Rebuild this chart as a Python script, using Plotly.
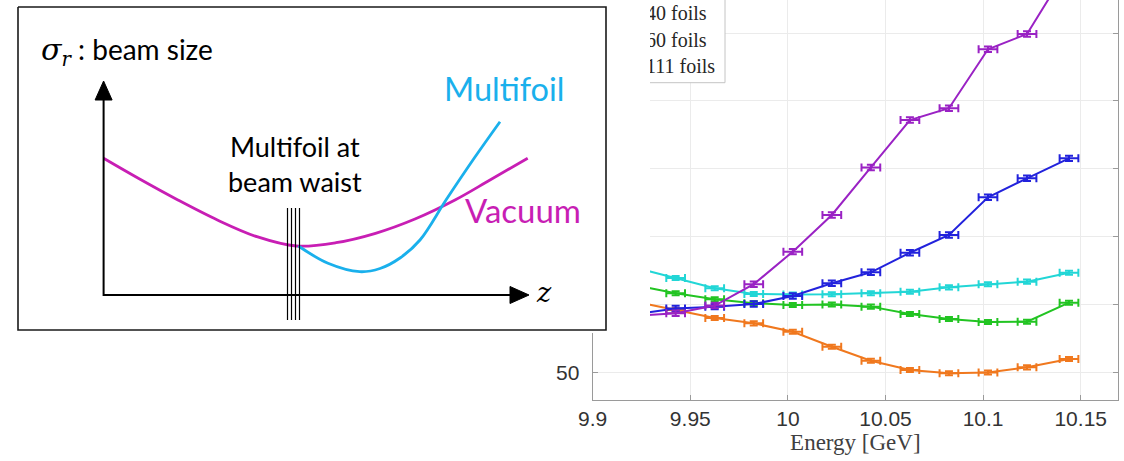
import plotly.graph_objects as go

W, H = 1124, 461

# ---------------- data (right-hand measurement plot) ----------------
energy = [9.9225, 9.9425, 9.9625, 9.9825, 10.0025, 10.0225, 10.0425, 10.0625, 10.0825, 10.1025, 10.1225, 10.1440]
energy_err = 0.0048

series_names = ["10 foils", "20 foils", "40 foils", "60 foils", "111 foils"]
size_orange = [101.9, 96.0, 90.1, 86.2, 80.0, 69.0, 58.7, 51.8, 49.4, 50.0, 53.8, 59.9]
size_green = [114.1, 108.3, 103.9, 101.0, 99.7, 100.1, 98.5, 93.1, 89.4, 87.2, 87.4, 101.4]
size_cyan = [127.0, 119.6, 112.0, 107.8, 107.4, 107.6, 108.3, 109.5, 112.7, 115.0, 116.9, 123.5]
size_blue = [93.1, 97.1, 98.5, 100.4, 106.3, 115.7, 123.8, 138.2, 151.3, 179.0, 193.0, 207.7]
size_purple = [91.8, 93.6, 99.3, 115.0, 139.0, 166.0, 201.0, 235.9, 244.6, 288.0, 299.3, 349.3]
size_err = [1.5, 1.5, 1.5, 2.0, 2.0]
series_colors = ["#f0781e", "#22c422", "#22d6d6", "#2222dc", "#9a22c4"]

x_ticks = [9.9, 9.95, 10.0, 10.05, 10.1, 10.15]
x_ticklabels = ["9.9", "9.95", "10", "10.05", "10.1", "10.15"]
y_ticks = [50, 100, 150, 200, 250, 300]
y_ticklabels = ["50", "100", "150", "200", "250", "300"]
y_labels_visible = [50]          # the others lie under the pasted sketch
legend_labels = ["40 foils", "60 foils", "111 foils"]

# ---------------- schematic (left-hand sketch, pixel space) ----------------
box_x = [18, 606, 606, 18, 18]
box_y = [7, 7, 330, 330, 7]
vac_x = [103.6, 138.3, 177.9, 217.4, 256.9, 296.4, 336, 375.5, 415, 455, 490, 527.7]
vac_y = [158.3, 178.3, 200, 220, 236.7, 246, 242.7, 233.3, 219, 200, 180, 158.3]
mf_x = [298.4, 328, 359.7, 380, 400, 420, 446, 474.3, 500]
mf_y = [246, 263.3, 271.7, 268.5, 258, 240, 200, 158, 121.7]
foil_x = [287.5, 291.5, 295.5, 299.5]
foil_y = [208, 320]

# ---------------- geometry of the data axes (pixels) ----------------
PL, PR, PT, PB = 592.7, 1118.0, 0.0, 400.0
XR = [9.9, 10.1691]
YR = [29.75, 324.3]


def px2x(p):
    return XR[0] + (p - PL) / (PR - PL) * (XR[1] - XR[0])


def py2y(p):
    return YR[1] - (p - PT) / (PB - PT) * (YR[1] - YR[0])


fig = go.Figure()

# legend box
lg_l, lg_r, lg_t, lg_b = 560, 725, -10, 82.7
fig.add_trace(go.Scatter(
    x=[px2x(lg_l), px2x(lg_r), px2x(lg_r), px2x(lg_l), px2x(lg_l)],
    y=[py2y(lg_t), py2y(lg_t), py2y(lg_b), py2y(lg_b), py2y(lg_t)],
    mode="lines", fill="toself", fillcolor="white",
    line=dict(color="#c4c4c4", width=1), hoverinfo="skip", showlegend=False,
    xaxis="x", yaxis="y"))
fig.add_trace(go.Scatter(
    x=[px2x(646)] * 3, y=[py2y(15), py2y(41.7), py2y(68.3)],
    mode="text", text=legend_labels, textposition="middle right",
    textfont=dict(family="Liberation Serif", size=20, color="#262626"),
    hoverinfo="skip", showlegend=False, xaxis="x", yaxis="y"))

all_series = [size_orange, size_green, size_cyan, size_blue, size_purple]
for name, vals, col, ye in zip(series_names, all_series, series_colors, size_err):
    fig.add_trace(go.Scatter(
        x=energy, y=vals, name=name, mode="lines",
        line=dict(color=col, width=2),
        error_x=dict(type="constant", value=energy_err, color=col, thickness=2, width=4),
        error_y=dict(type="constant", value=ye, color=col, thickness=2, width=4),
        showlegend=False, xaxis="x", yaxis="y"))

# ---------------- schematic overlay on a full-page pixel axis ----------------
fig.add_trace(go.Scatter(
    x=[0, 650, 650, 0, 0], y=[-5, -5, 333, 333, -5], mode="lines",
    fill="toself", fillcolor="white", line=dict(width=0, color="white"),
    hoverinfo="skip", showlegend=False, xaxis="x2", yaxis="y2"))
fig.add_trace(go.Scatter(
    x=box_x, y=box_y, mode="lines", line=dict(color="#1a1a1a", width=1.6),
    hoverinfo="skip", showlegend=False, xaxis="x2", yaxis="y2"))
fig.add_trace(go.Scatter(
    x=vac_x, y=vac_y, mode="lines", line=dict(color="#c81eb4", width=2.8, shape="spline", smoothing=1.0),
    name="Vacuum", hoverinfo="skip", showlegend=False, xaxis="x2", yaxis="y2"))
fig.add_trace(go.Scatter(
    x=mf_x, y=mf_y, mode="lines", line=dict(color="#1ab0ec", width=2.8, shape="spline", smoothing=1.0),
    name="Multifoil", hoverinfo="skip", showlegend=False, xaxis="x2", yaxis="y2"))
for fx in foil_x:
    fig.add_trace(go.Scatter(
        x=[fx, fx], y=foil_y, mode="lines", line=dict(color="black", width=1.2),
        hoverinfo="skip", showlegend=False, xaxis="x2", yaxis="y2"))
fig.add_trace(go.Scatter(
    x=[103.6, 103.6, 512], y=[98, 295, 295], mode="lines",
    line=dict(color="black", width=2), hoverinfo="skip", showlegend=False,
    xaxis="x2", yaxis="y2"))
fig.add_trace(go.Scatter(
    x=[103.6, 95.1, 112.1, 103.6], y=[81, 100, 100, 81], mode="lines", fill="toself",
    fillcolor="black", line=dict(color="black", width=1), hoverinfo="skip",
    showlegend=False, xaxis="x2", yaxis="y2"))
fig.add_trace(go.Scatter(
    x=[529, 510, 510, 529], y=[295, 286.5, 303.5, 295], mode="lines", fill="toself",
    fillcolor="black", line=dict(color="black", width=1), hoverinfo="skip",
    showlegend=False, xaxis="x2", yaxis="y2"))

sans = "Lato"
annotations = [
    dict(x=39, y=51, xref="x2", yref="y2", xanchor="left", yanchor="middle", showarrow=False,
         text='<span style="font-family:DejaVu Serif;font-size:30px"><i>σ</i></span>'
              '<sub><span style="font-family:DejaVu Serif"><i>r</i></span></sub> : beam size',
         font=dict(family=sans, size=28, color="black")),
    dict(x=442, y=88, xref="x2", yref="y2", xanchor="left", yanchor="middle", showarrow=False,
         text="Multifoil", font=dict(family=sans, size=32.5, color="#1ab0ec")),
    dict(x=295, y=164, xref="x2", yref="y2", xanchor="center", yanchor="middle", showarrow=False,
         text="Multifoil at<br>beam waist", font=dict(family=sans, size=27, color="black")),
    dict(x=463, y=210, xref="x2", yref="y2", xanchor="left", yanchor="middle", showarrow=False,
         text="Vacuum", font=dict(family=sans, size=33, color="#c81eb4")),
    dict(x=544, y=292, xref="x2", yref="y2", xanchor="center", yanchor="middle", showarrow=False,
         text="<i>z</i>", font=dict(family="DejaVu Serif", size=27, color="black")),
]

y_ticktext = [lbl if v in y_labels_visible else "" for v, lbl in zip(y_ticks, y_ticklabels)]

axis_grey = "#9a9a9a"
fig.update_layout(
    width=W, height=H, autosize=False,
    margin=dict(l=0, r=0, t=0, b=0),
    paper_bgcolor="white", plot_bgcolor="rgba(0,0,0,0)",
    showlegend=False,
    annotations=annotations,
    xaxis=dict(
        domain=[PL / W, PR / W], range=XR, tickmode="array",
        tickvals=x_ticks, ticktext=x_ticklabels,
        showgrid=True, gridcolor="#ebebeb", gridwidth=1, zeroline=False,
        showline=True, linecolor=axis_grey, linewidth=1.2, mirror=False,
        ticks="inside", ticklen=5, tickcolor=axis_grey, ticklabelstandoff=0,
        tickfont=dict(family="Liberation Sans", size=21, color="#333333"),
        title=dict(text="Energy [GeV]", standoff=2,
                   font=dict(family="Liberation Serif", size=23, color="#404040")),
        automargin=False, fixedrange=True),
    yaxis=dict(
        domain=[(H - PB) / H, 1], range=YR, tickmode="array",
        tickvals=y_ticks, ticktext=y_ticktext,
        showgrid=True, gridcolor="#ebebeb", gridwidth=1, zeroline=False,
        showline=True, linecolor=axis_grey, linewidth=1.2, mirror="ticks",
        ticks="inside", ticklen=5, tickcolor=axis_grey, ticklabelstandoff=8,
        tickfont=dict(family="Liberation Sans", size=21, color="#333333"),
        automargin=False, fixedrange=True),
    xaxis2=dict(domain=[0, 1], range=[0, W], visible=False, anchor="y2", fixedrange=True),
    yaxis2=dict(domain=[0, 1], range=[H, 0], visible=False, anchor="x2", fixedrange=True),
)

fig.write_html("out.html", config={"displayModeBar": False},
               post_script="document.body.style.margin='0';document.body.style.overflow='hidden';")
